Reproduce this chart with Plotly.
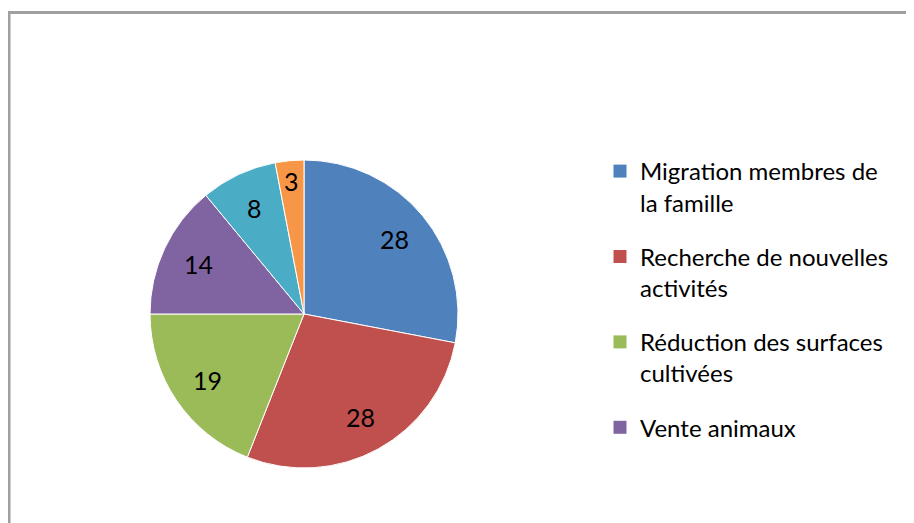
import math
import plotly.graph_objects as go

# Data
slice_labels = ["Migration membres de la famille", "Recherche de nouvelles activités",
                "Réduction des surfaces cultivées", "Vente animaux", "Catégorie 5", "Catégorie 6"]
slice_values = [28, 28, 19, 14, 8, 3]
slice_colors = ["#4F81BD", "#C0504D", "#9BBB59", "#8064A2", "#4BACC6", "#F79646"]
legend_names = ["Migration membres de<br>la famille", "Recherche de nouvelles<br>activités",
                "Réduction des surfaces<br>cultivées", "Vente animaux"]

W, H = 914, 523
FONT = "Lato"
OFF = 8  # page body margin

# pie geometry (figure pixels)
CX, CY, R = 304 - OFF, 314 - OFF, 154

fig = go.Figure()
fig.add_trace(go.Pie(
    labels=slice_labels, values=slice_values, sort=False, direction="clockwise",
    rotation=0, marker=dict(colors=slice_colors, line=dict(color="white", width=1)),
    textinfo="none", hoverinfo="label+value",
    showlegend=False,
    domain=dict(x=[(CX - R) / W, (CX + R) / W], y=[1 - (CY + R) / H, 1 - (CY - R) / H]),
))

# data labels placed at slice mid-angles
total = sum(slice_values)
annotations = []
cum = 0
for v in slice_values:
    mid = (cum + v / 2) / total * 2 * math.pi
    cum += v
    frac = 0.87 if v / total < 0.05 else 0.76
    px = CX + frac * R * math.sin(mid)
    py = CY - frac * R * math.cos(mid)
    annotations.append(dict(x=px / W, y=1 - py / H, xref="paper", yref="paper",
                            text=str(v), showarrow=False, xanchor="center", yanchor="middle",
                            font=dict(family=FONT, size=25, color="black")))

for i, name in enumerate(legend_names):
    fig.add_trace(go.Scatter(
        x=[None], y=[None], mode="markers", name=name, legendgroup=f"g{i}",
        marker=dict(symbol="square", size=13, color=slice_colors[i]),
    ))

fig.update_layout(
    width=W, height=H,
    margin=dict(l=0, r=0, t=0, b=0),
    paper_bgcolor="white", plot_bgcolor="white",
    xaxis=dict(visible=False), yaxis=dict(visible=False),
    legend=dict(x=592 / W, y=1 - 141 / H, xanchor="left", yanchor="top",
                font=dict(family=FONT, size=24, color="black"),
                valign="top", tracegroupgap=20, itemwidth=30,
                bgcolor="rgba(0,0,0,0)"),
    annotations=annotations,
    shapes=[dict(type="rect", xref="paper", yref="paper",
                 x0=(9 - OFF) / W, x1=1.2, y0=-0.2, y1=1 - (12.5 - OFF) / H,
                 line=dict(color="#A0A0A0", width=3))],
)

fig.write_html("out.html")
